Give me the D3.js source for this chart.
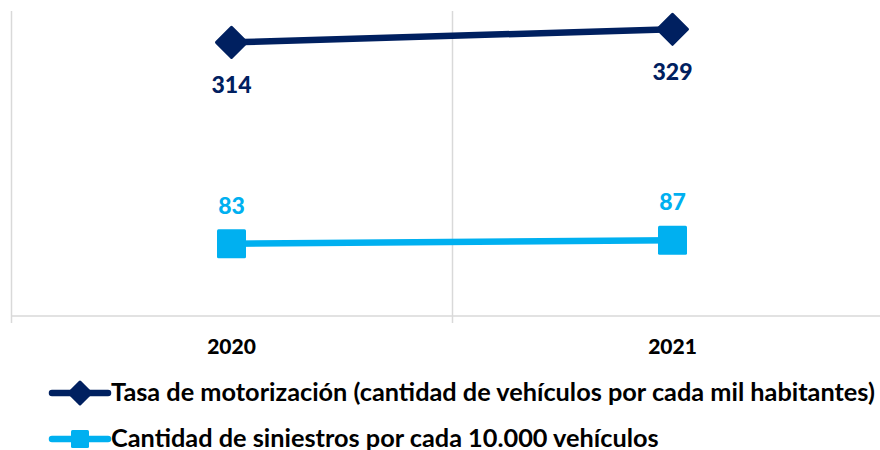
<!DOCTYPE html>
<html><head><meta charset="utf-8">
<script src="https://cdn.jsdelivr.net/npm/d3@7"></script>
<style>body{margin:0;background:#fff}svg{display:block}</style>
</head><body>
<svg id="c" width="880" height="450"></svg>
<script>
const categories = ["2020", "2021"];
const motorizacion = [314, 329];
const siniestros = [83, 87];
const seriesNames = ["Tasa de motorización (cantidad de vehículos por cada mil habitantes)", "Cantidad de siniestros por cada 10.000 vehículos"];
const colors = ["#002060", "#00B0F0"];

const svg = d3.select("#c");
const font = "Lato, 'Open Sans', sans-serif";
const x = d3.scaleBand().domain(categories).range([11, 893]);
const y = d3.scaleLinear().domain([0, 350]).range([316, 11]);
const cx = d => x(d) + x.bandwidth() / 2;

// grid / axes
const grid = "#d9d9d9";
svg.append("line").attr("x1", 11.5).attr("x2", 11.5).attr("y1", y(350)).attr("y2", 323).attr("stroke", grid).attr("stroke-width", 1.5);
const bounds = [x.range()[0], x(categories[1]), x.range()[1]];
bounds.slice(1).forEach(b => {
  svg.append("line").attr("x1", b + 0.5).attr("x2", b + 0.5).attr("y1", y(350)).attr("y2", 323).attr("stroke", grid).attr("stroke-width", 1.5);
});
svg.append("line").attr("x1", 11).attr("x2", 893).attr("y1", y(0)).attr("y2", y(0)).attr("stroke", grid).attr("stroke-width", 1.5);

const xAxis = svg.append("g").attr("transform", `translate(0,${y(0)})`)
  .call(d3.axisBottom(x).tickSize(0).tickPadding(23));
xAxis.select(".domain").remove();
xAxis.selectAll("text").attr("font-family", font).attr("font-weight", "900").attr("font-size", 21).attr("fill", "#000");

const series = [motorizacion, siniestros];
const line = d3.line().x((d, i) => cx(categories[i])).y(d => y(d));

series.forEach((vals, si) => {
  svg.append("path").datum(vals).attr("d", line).attr("fill", "none")
    .attr("stroke", colors[si]).attr("stroke-width", 6.5);
});

// markers
const diamond = (g, px, py, r) => g.append("path")
  .attr("d", `M${px},${py - r}L${px + r},${py}L${px},${py + r}L${px - r},${py}Z`)
  .attr("fill", colors[0]).attr("stroke", colors[0]).attr("stroke-width", 3).attr("stroke-linejoin", "round");
const square = (g, px, py, s) => g.append("rect")
  .attr("x", px - s / 2).attr("y", py - s / 2).attr("width", s).attr("height", s).attr("rx", 1.5)
  .attr("fill", colors[1]);

motorizacion.forEach((v, i) => diamond(svg, cx(categories[i]), y(v), 15));
siniestros.forEach((v, i) => square(svg, cx(categories[i]), y(v), 29));

// data labels
motorizacion.forEach((v, i) => {
  svg.append("text").attr("x", cx(categories[i])).attr("y", y(v) + 51)
    .attr("text-anchor", "middle").attr("font-family", font).attr("font-weight", "900")
    .attr("font-size", 23).attr("fill", colors[0]).text(v);
});
siniestros.forEach((v, i) => {
  svg.append("text").attr("x", cx(categories[i])).attr("y", y(v) - 30)
    .attr("text-anchor", "middle").attr("font-family", font).attr("font-weight", "900")
    .attr("font-size", 23).attr("fill", colors[1]).text(v);
});

// legend
const legY = [393, 439];
let legFs = 21;
seriesNames.forEach((name, i) => {
  const g = svg.append("g");
  g.append("line").attr("x1", 52).attr("x2", 108).attr("y1", legY[i]).attr("y2", legY[i])
    .attr("stroke", colors[i]).attr("stroke-width", 6.5).attr("stroke-linecap", "round");
  if (i === 0) diamond(g, 80, legY[i], 11);
  else square(g, 80, legY[i], 18);
  const t = g.append("text").attr("x", 111).attr("y", legY[i] + 7.5)
    .attr("font-family", font).attr("font-weight", "bold").attr("font-size", legFs)
    .attr("fill", "#000").text(name);
  if (i === 0) {
    const w = t.node().getComputedTextLength();
    legFs = 21 * 764 / w;
  }
  t.attr("font-size", legFs);
});
</script>
</body></html>
